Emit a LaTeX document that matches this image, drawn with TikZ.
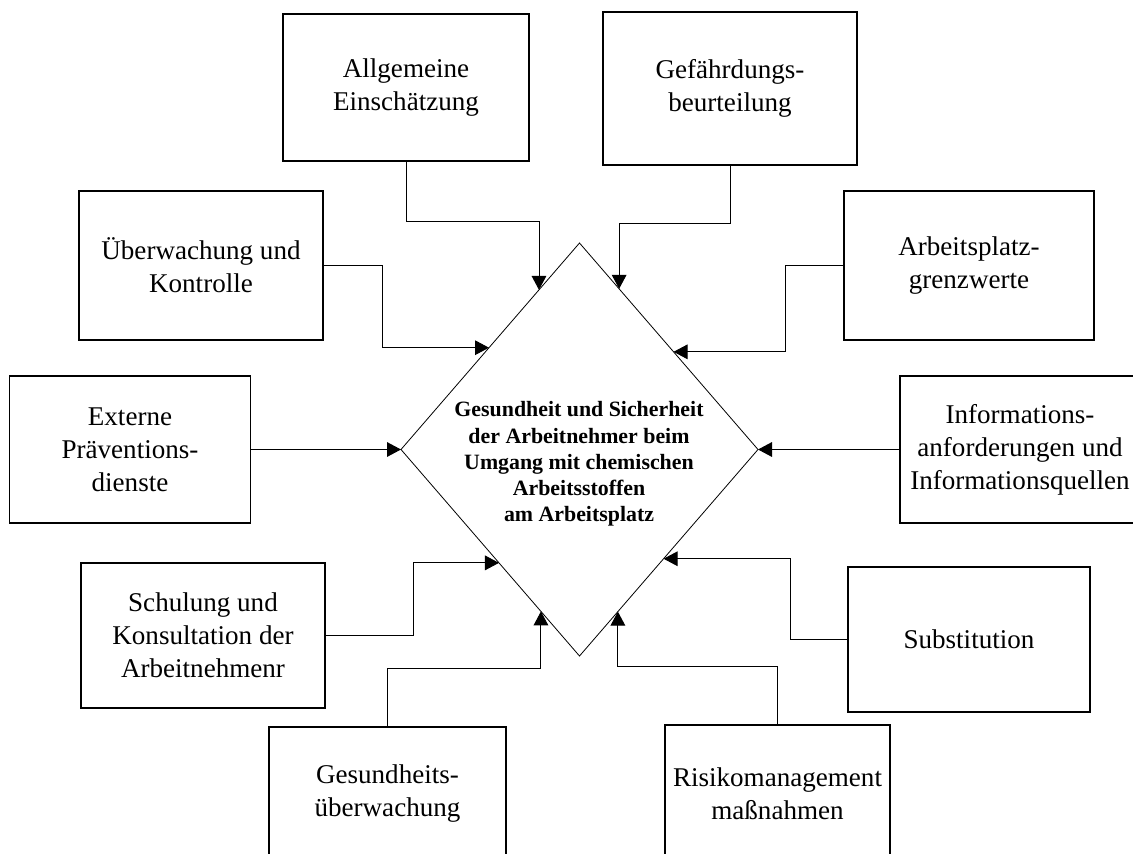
\documentclass[tikz,border=0pt]{standalone}
\usepackage{fontspec}
\setmainfont{Liberation Serif}
\usetikzlibrary{shapes.geometric,arrows.meta,calc}
\begin{document}
\begin{tikzpicture}[x=0.75pt,y=-0.75pt,
  box/.style={draw, line width=0.9pt, rectangle, inner sep=0pt, align=center,
    font=\fontsize{20.3pt}{24.75pt}\selectfont},
  sz/.style 2 args={minimum width={#1*0.75pt}, minimum height={#2*0.75pt}},
  conn/.style={line width=0.7pt, -{Triangle[length=10.5pt,width=11pt]}},
  centertext/.style={align=center, inner sep=0pt,
    font=\fontsize{16.4pt}{19.7pt}\selectfont\bfseries}
]
\useasboundingbox (0,0) rectangle (1133,854);

% central diamond
\node[diamond, draw, line width=0.6pt, inner sep=0pt, outer sep=0pt,
      minimum width={357*0.75pt}, minimum height={413*0.75pt}] (c) at (579.5,449.5) {};
\node[centertext] (ct) at (579,464) {Gesundheit und Sicherheit\\der Arbeitnehmer beim\\Umgang mit chemischen\\Arbeitsstoffen\\am Arbeitsplatz};

% surrounding boxes
\node[box, sz={246}{147}] (a1) at (406,87.5) {Allgemeine\\Einschätzung};
\node[box, sz={254}{153}] (a2) at (730,88.5) {Gefährdungs-\\beurteilung};
\node[box, sz={244}{149}] (a3) at (201,265.5) {Überwachung und\\Kontrolle};
\node[box, sz={250}{149}] (a4) at (969,265.5) {Arbeitsplatz-\\grenzwerte};
\node[box, sz={241}{147}] (a5) at (130,449.5) {Externe\\Präventions-\\dienste};
\node[box, sz={240}{147}] (a6) at (1020,449.5) {Informations-\\anforderungen und\\Informationsquellen};
\node[box, sz={244}{145}] (a7) at (203,635.5) {Schulung und\\Konsultation der\\Arbeitnehmenr};
\node[box, sz={242}{145}] (a8) at (969,639.5) {Substitution};
\node[box, sz={237}{134}] (a9) at (387.5,794) {Gesundheits-\\überwachung};
\node[box, sz={225}{138}] (a10) at (777.5,794) {Risikomanagement\\maßnahmen};

% arrow end points on the diamond border
\coordinate (e1) at ($(c.west)!0.773!(c.north)$);
\coordinate (e2) at ($(c.north)!0.222!(c.east)$);
\coordinate (e3) at ($(c.west)!0.493!(c.north)$);
\coordinate (e4) at ($(c.east)!0.473!(c.north)$);
\coordinate (e7) at ($(c.west)!0.549!(c.south)$);
\coordinate (e8) at ($(c.east)!0.529!(c.south)$);
\coordinate (e9) at ($(c.west)!0.784!(c.south)$);
\coordinate (e10) at ($(c.south)!0.215!(c.east)$);

% connectors
\draw[conn] (a1.south) -- ++(0,60) -| (e1);
\draw[conn] (a2.south) -- ++(0,58) -| (e2);
\draw[conn] (a3.east) -- ++(59,0) |- (e3);
\draw[conn] (a4.west) -- ++(-58,0) |- (e4);
\draw[conn] (a5.east) -- (c.west);
\draw[conn] (a6.west) -- (c.east);
\draw[conn] (a7.east) -- ++(88,0) |- (e7);
\draw[conn] (a8.west) -- ++(-57,0) |- (e8);
\draw[conn] (a9.north) -- ++(0,-58) -| (e9);
\draw[conn] (a10.north) -- ++(0,-58) -| (e10);
\end{tikzpicture}
\end{document}
